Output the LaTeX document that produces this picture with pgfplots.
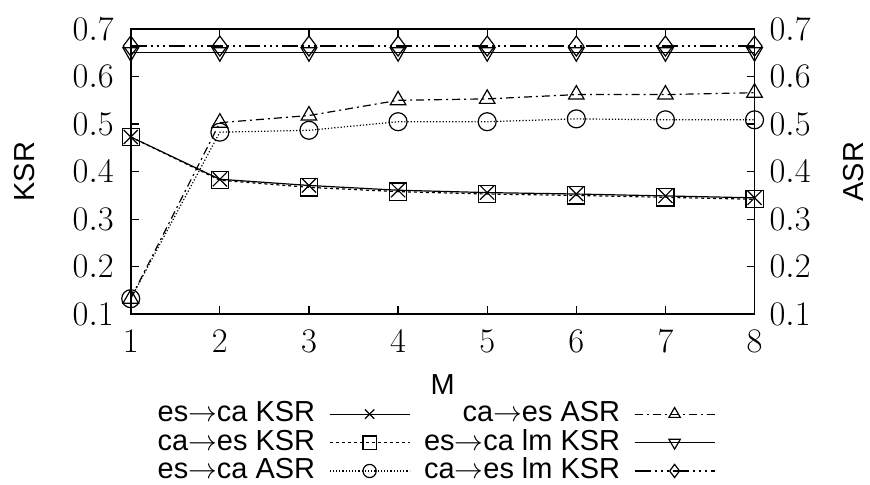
\documentclass[border=0pt]{standalone}
\usepackage{fontspec}
\setmainfont{Liberation Sans}
\usepackage{pgfplots}
\pgfplotsset{compat=1.18}
\newcommand{\arr}{$\rightarrow$}
\begin{document}
\begin{tikzpicture}
\pgfplotsset{
  every axis/.append style={
    scale only axis, width=312.5pt, height=143pt,
    xmin=1, xmax=8, ymin=0.1, ymax=0.7,
    xtick={1,...,8}, ytick={0.1,0.2,...,0.7},
    yticklabel style={/pgf/number format/fixed,/pgf/number format/precision=1,/pgf/number format/fixed zerofill},
    tick label style={font=\fontsize{16}{16}\selectfont},
    label style={font=\fontsize{14.5}{15}\selectfont},
    major tick length=4pt,
    axis line style={line width=0.9pt},
    every tick/.style={line width=0.6pt, black},
  }
}
\begin{axis}[
  clip=false,
  xlabel={M}, ylabel={KSR},
  xlabel style={at={(rel axis cs:0.5,-0.2465)}, anchor=center, inner sep=0.5pt},
  ylabel style={at={(rel axis cs:-0.171,0.5)}, anchor=center},
  xticklabel style={yshift=-4.5pt},
  yticklabel style={xshift=-5pt},
  legend columns=2,
  legend plot pos=right,
  legend cell align=right,
  legend style={at={(0.49,-0.3007)}, anchor=north, draw=none, fill=none,
    font=\fontsize{14.5}{14.5}\selectfont, inner sep=0pt,
    nodes={inner sep=0pt, text height=10.5pt, text depth=3pt},
    column sep=7pt, row sep=0.75pt},
  legend image code/.code={\draw[mark repeat=2,mark phase=2,#1,mark size=3.3pt] plot coordinates {(0pt,0pt) (20pt,0pt) (40pt,0pt)};},
  every axis plot/.append style={line width=0.6pt, black, mark size=4.5pt, mark options={solid, line width=0.6pt, fill=none}},
]
\path (rel axis cs:-0.2096,-0.591) rectangle (rel axis cs:1.1824,1.1014);
% 1 es->ca KSR
\addplot[mark=x, mark size=5pt] coordinates {(1,0.473) (2,0.384) (3,0.371) (4,0.361) (5,0.356) (6,0.353) (7,0.349) (8,0.345)};
\addlegendentry{es\arr ca KSR}
% 2 ca->es ASR
\addplot[mark=triangle, dash pattern=on 4pt off 2pt on 1pt off 2pt] coordinates {(1,0.133) (2,0.503) (3,0.518) (4,0.550) (5,0.553) (6,0.562) (7,0.562) (8,0.566)};
\addlegendentry{ca\arr es ASR}
% 3 ca->es KSR
\addplot[mark=square, mark size=4.3pt, dash pattern=on 1.5pt off 1.5pt] coordinates {(1,0.473) (2,0.382) (3,0.367) (4,0.358) (5,0.353) (6,0.350) (7,0.346) (8,0.342)};
\addlegendentry{ca\arr es KSR}
% 4 es->ca lm KSR
\addplot[mark=triangle, mark options={rotate=180}] coordinates {(1,0.651) (2,0.651) (3,0.651) (4,0.651) (5,0.651) (6,0.651) (7,0.651) (8,0.651)};
\addlegendentry{es\arr ca lm KSR}
% 5 es->ca ASR
\addplot[mark=o, dash pattern=on 0.6pt off 1pt] coordinates {(1,0.133) (2,0.483) (3,0.487) (4,0.505) (5,0.505) (6,0.511) (7,0.509) (8,0.509)};
\addlegendentry{es\arr ca ASR}
% 6 ca->es lm KSR
\addplot[mark=diamond, mark size=5pt, dash pattern=on 8pt off 2pt on 1pt off 2pt on 1pt off 2pt on 1pt off 2pt] coordinates {(1,0.664) (2,0.664) (3,0.664) (4,0.664) (5,0.664) (6,0.664) (7,0.664) (8,0.664)};
\addlegendentry{ca\arr es lm KSR}
\end{axis}
\begin{axis}[
  axis y line*=right, axis x line=none,
  yticklabel pos=right,
  yticklabel style={xshift=4pt},
  ylabel={ASR},
  ylabel style={at={(rel axis cs:1.158,0.5)}, anchor=center},
]
\addplot[draw=none] coordinates {(1,0.1) (8,0.7)};
\end{axis}
\end{tikzpicture}
\end{document}
